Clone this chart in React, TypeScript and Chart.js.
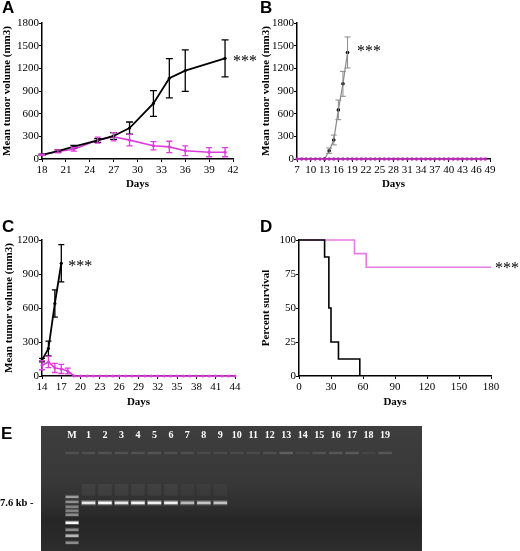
import React, { useEffect, useRef } from 'react';
import { Chart, registerables } from 'chart.js';

Chart.register(...registerables);

const SERIF = '"Liberation Serif", "Times New Roman", serif';
const SANS = '"Liberation Sans", Arial, sans-serif';

// ---------- Panel A ----------
const aCtrlDays = [18, 20, 22, 25, 27, 29, 32, 34, 36, 41];
const aCtrlMean = [55, 105, 165, 245, 305, 410, 735, 1068, 1170, 1332];
const aCtrlSD = [8, 15, 15, 25, 45, 80, 170, 260, 275, 245];
const aTrtDays = [18, 20, 22, 25, 27, 29, 32, 34, 36, 39, 41];
const aTrtMean = [55, 100, 130, 250, 295, 250, 175, 160, 110, 90, 90];
const aTrtSD = [8, 20, 25, 40, 55, 75, 55, 75, 65, 60, 60];
const aXRange = [18, 42];
const aYRange = [0, 1800];

// ---------- Panel B ----------
const bCtrlDays = [13, 14, 15, 16, 17, 18];
const bCtrlMean = [0, 110, 252, 650, 995, 1410];
const bCtrlSD = [0, 35, 65, 130, 165, 205];
const bTrtDays = [7, 8, 9, 10, 11, 12, 13, 14, 15, 16, 17, 18, 19, 20, 21, 22, 23, 24, 25, 26, 27, 28, 29, 30, 31, 32, 33, 34, 35, 36, 37, 38, 39, 40, 41, 42, 43, 44, 45, 46, 47, 48];
const bTrtMean = [0, 0, 0, 0, 0, 0, 0, 0, 0, 0, 0, 0, 0, 0, 0, 0, 0, 0, 0, 0, 0, 0, 0, 0, 0, 0, 0, 0, 0, 0, 0, 0, 0, 0, 0, 0, 0, 0, 0, 0, 0, 0];
const bXRange = [7, 49];
const bYRange = [0, 1800];

// ---------- Panel C ----------
const cCtrlDays = [14, 15, 16, 17];
const cCtrlMean = [140, 242, 640, 995];
const cCtrlSD = [15, 65, 120, 165];
const cTrtDays = [14, 15, 16, 17, 18, 19, 20, 21, 22, 23, 24, 25, 26, 27, 28, 29, 30, 31, 32, 33, 34, 35, 36, 37, 38, 39, 40, 41, 42, 43, 44];
const cTrtMean = [95, 124, 71, 62, 44, 0, 0, 0, 0, 0, 0, 0, 0, 0, 0, 0, 0, 0, 0, 0, 0, 0, 0, 0, 0, 0, 0, 0, 0, 0, 0];
const cTrtSD = [40, 50, 40, 40, 25, 0, 0, 0, 0, 0, 0, 0, 0, 0, 0, 0, 0, 0, 0, 0, 0, 0, 0, 0, 0, 0, 0, 0, 0, 0, 0];
const cXRange = [14, 44];
const cYRange = [0, 1200];

// ---------- Panel D ----------
const dCtrlDays = [0, 24, 28, 30, 37, 57];
const dCtrlSurv = [100, 87.5, 50, 25, 12.5, 0];
const dTrtDays = [0, 52, 63, 180];
const dTrtSurv = [100, 90, 80, 80];
const dXRange = [0, 180];
const dYRange = [0, 100];

// ---------- Panel E (gel) ----------
const gelLanes = ['M', '1', '2', '3', '4', '5', '6', '7', '8', '9', '10', '11', '12', '13', '14', '15', '16', '17', '18', '19'];
const gelRange = [0, 101];
const wellPos = 9;
const wellIntensity = [0.1, 0.1, 0.12, 0.12, 0.12, 0.13, 0.1, 0.1, 0.08, 0.08, 0.08, 0.08, 0.1, 0.18, 0.06, 0.12, 0.14, 0.16, 0.06, 0.14];
const smearRange = [40, 52];
const smearIntensity = [0, 0.05, 0.06, 0.05, 0.05, 0.05, 0.05, 0.03, 0.03, 0.03, 0, 0, 0, 0, 0, 0, 0, 0, 0, 0];
const productPos = 59;
const productIntensity = [0, 0.85, 0.97, 0.85, 0.92, 0.9, 0.9, 0.6, 0.65, 0.65, 0, 0, 0, 0, 0, 0, 0, 0, 0, 0];
const productLabel = '7.6 kb -';
const ladderPos = [53, 58, 63, 67, 71, 79, 86, 92, 99];
const ladderIntensity = [0.45, 0.4, 0.35, 0.35, 0.4, 0.95, 0.4, 0.6, 0.4];

const BLACK = '#000000';
const MAGENTA = '#dd3ddd';
const PINK = '#e77ce3';
const GRAY = '#8a8a8a';

const errorBarPlugin = {
  id: 'errorBars',
  afterDatasetsDraw(chart: any) {
    const ctx = chart.ctx;
    const y = chart.scales.y;
    chart.data.datasets.forEach((ds: any, i: number) => {
      if (!ds.errorBars) return;
      const meta = chart.getDatasetMeta(i);
      ctx.save();
      ctx.strokeStyle = ds.errorColor || ds.borderColor;
      ctx.lineWidth = ds.errorWidth || 1.2;
      meta.data.forEach((pt: any, j: number) => {
        const e = ds.errorBars[j];
        if (!e) return;
        const v = ds.data[j].y;
        const yt = y.getPixelForValue(v + e);
        const yb = y.getPixelForValue(Math.max(0, v - e));
        const cap = ds.capHalf || 3;
        ctx.beginPath();
        ctx.moveTo(pt.x, yt);
        ctx.lineTo(pt.x, yb);
        ctx.moveTo(pt.x - cap, yt);
        ctx.lineTo(pt.x + cap, yt);
        ctx.moveTo(pt.x - cap, yb);
        ctx.lineTo(pt.x + cap, yb);
        ctx.stroke();
      });
      ctx.restore();
    });
  },
};

const starsPlugin = {
  id: 'stars',
  afterDraw(chart: any, _args: any, opts: any) {
    if (!opts || !opts.text) return;
    const meta = chart.getDatasetMeta(opts.datasetIndex);
    const pt = meta.data[meta.data.length - 1];
    const ctx = chart.ctx;
    ctx.save();
    ctx.font = `${opts.size}px ${SERIF}`;
    ctx.fillStyle = '#000';
    ctx.textAlign = 'left';
    ctx.textBaseline = 'alphabetic';
    ctx.fillText(opts.text, pt.x + opts.dx, pt.y + opts.dy + opts.size * 0.47);
    ctx.restore();
  },
};

function axis(range: number[], step: number, title: string, box: number, isY: boolean) {
  return {
    type: 'linear',
    min: range[0],
    max: range[1],
    ticks: {
      stepSize: step,
      autoSkip: false,
      maxRotation: 0,
      color: '#000',
      font: { family: SERIF, size: 11 },
      padding: isY ? 0 : 2,
      callback: (v: any) => String(v),
    },
    grid: { drawOnChartArea: false, drawTicks: true, tickLength: 3, color: '#000', lineWidth: 1 },
    border: { display: true, color: '#000', width: 1.5 },
    title: {
      display: true,
      text: title,
      color: '#000',
      font: { family: SERIF, size: 11, weight: 'bold' },
      padding: 0,
    },
    afterFit: (s: any) => {
      if (isY) s.width = box;
      else s.height = box;
    },
  };
}

function series(days: number[], vals: number[], style: any, sd?: number[]) {
  return {
    data: days.map((d, i) => ({ x: d, y: vals[i] })),
    tension: 0,
    fill: false,
    clip: false,
    pointBorderWidth: 0,
    errorBars: sd,
    ...style,
  };
}

function lineConfig(p: any) {
  return {
    type: 'line',
    data: { datasets: p.datasets },
    options: {
      animation: false,
      responsive: false,
      maintainAspectRatio: false,
      layout: { padding: p.padding },
      plugins: { legend: { display: false }, tooltip: { enabled: false }, stars: p.stars },
      scales: {
        x: axis(p.xRange, p.xStep, p.xTitle, p.xBox, false),
        y: axis(p.yRange, p.yStep, p.yTitle, p.yBox, true),
      },
    },
    plugins: [errorBarPlugin, starsPlugin],
  };
}

const configA = () =>
  lineConfig({
    datasets: [
      series(aCtrlDays, aCtrlMean, { borderColor: BLACK, borderWidth: 1.8, pointRadius: 1.6, pointBackgroundColor: BLACK, errorWidth: 1.3, capHalf: 3.5 }, aCtrlSD),
      series(aTrtDays, aTrtMean, { borderColor: MAGENTA, borderWidth: 1.6, pointRadius: 1.6, pointBackgroundColor: MAGENTA, errorWidth: 1.3, capHalf: 3 }, aTrtSD),
    ],
    padding: { left: 1, top: 23, right: 27, bottom: 9.4 },
    xRange: aXRange, xStep: 3, xTitle: 'Days', xBox: 31.6,
    yRange: aYRange, yStep: 300, yTitle: 'Mean tumor volume (mm3)', yBox: 41,
    stars: { text: '***', datasetIndex: 0, dx: 8, dy: 0, size: 16 },
  });

const configB = () =>
  lineConfig({
    datasets: [
      series(bTrtDays, bTrtMean, { borderColor: MAGENTA, borderWidth: 1.4, pointRadius: 1.7, pointBackgroundColor: '#b52ab5' }),
      series(bCtrlDays, bCtrlMean, { borderColor: GRAY, borderWidth: 1.2, pointRadius: 1.8, pointBackgroundColor: BLACK, errorColor: GRAY, errorWidth: 1, capHalf: 3 }, bCtrlSD),
    ],
    padding: { left: 0, top: 23, right: 30, bottom: 9.4 },
    xRange: bXRange, xStep: 3, xTitle: 'Days', xBox: 31.6,
    yRange: bYRange, yStep: 300, yTitle: 'Mean tumor volume (mm3)', yBox: 37,
    stars: { text: '***', datasetIndex: 1, dx: 9.5, dy: -4.4, size: 16 },
  });

const configC = () =>
  lineConfig({
    datasets: [
      series(cCtrlDays, cCtrlMean, { borderColor: BLACK, borderWidth: 1.8, pointRadius: 1.6, pointBackgroundColor: BLACK, errorWidth: 1.3, capHalf: 3 }, cCtrlSD),
      series(cTrtDays, cTrtMean, { borderColor: MAGENTA, borderWidth: 1.6, pointRadius: 1.5, pointBackgroundColor: MAGENTA, errorWidth: 1.3, capHalf: 3 }, cTrtSD),
    ],
    padding: { left: 3, top: 40, right: 25, bottom: 6.4 },
    xRange: cXRange, xStep: 3, xTitle: 'Days', xBox: 32.6,
    yRange: cYRange, yStep: 300, yTitle: 'Mean tumor volume (mm3)', yBox: 39,
    stars: { text: '***', datasetIndex: 0, dx: 7, dy: 0.7, size: 16 },
  });

const configD = () =>
  lineConfig({
    datasets: [
      series(dCtrlDays, dCtrlSurv, { borderColor: BLACK, borderWidth: 1.6, pointRadius: 0, stepped: 'before' }),
      series(dTrtDays, dTrtSurv, { borderColor: PINK, borderWidth: 1.6, pointRadius: 0, stepped: 'before' }),
    ],
    padding: { left: 0, top: 40, right: 29, bottom: 6.4 },
    xRange: dXRange, xStep: 30, xTitle: 'Days', xBox: 32.6,
    yRange: dYRange, yStep: 25, yTitle: 'Percent survival', yBox: 39,
    stars: { text: '***', datasetIndex: 1, dx: 4, dy: -2, size: 16 },
  });

const gelBackgroundPlugin = {
  id: 'gelBg',
  beforeDraw(chart: any, _a: any, opts: any) {
    const ctx = chart.ctx;
    const area = chart.chartArea;
    const top = chart.scales.x.top;
    const left = area.left - opts.extendLeft;
    const right = area.right + opts.extendRight;
    const bottom = chart.height;
    const g = ctx.createLinearGradient(0, top, 0, bottom);
    g.addColorStop(0, '#3e3e3e');
    g.addColorStop(0.45, '#383838');
    g.addColorStop(0.62, '#303030');
    g.addColorStop(0.75, '#262626');
    g.addColorStop(0.92, '#2a2a2a');
    g.addColorStop(1, '#2e2e2e');
    ctx.save();
    ctx.fillStyle = g;
    ctx.fillRect(left, top, right - left, bottom - top);
    ctx.restore();
  },
};

const band = (pos: number, half: number) => [pos - half, pos + half];
const white = (a: number) => `rgba(255,255,255,${a})`;

const configE = () => {
  const barCommon = { grouped: false, barPercentage: 0.82, categoryPercentage: 1, borderWidth: 0, borderSkipped: false };
  const ladderSets = ladderPos.map((p, k) => ({
    ...barCommon,
    barPercentage: 0.78,
    data: gelLanes.map((_, i) => (i === 0 ? band(p, 1.2) : null)),
    backgroundColor: white(ladderIntensity[k]),
  }));
  const ladderGlow = ladderPos.map((p, k) => ({
    ...barCommon,
    barPercentage: 0.85,
    data: gelLanes.map((_, i) => (i === 0 ? band(p, 2.2) : null)),
    backgroundColor: white(ladderIntensity[k] * 0.25),
  }));
  return {
    type: 'bar',
    data: {
      labels: gelLanes,
      datasets: [
        ...ladderSets,
        ...ladderGlow,
        {
          ...barCommon,
          data: gelLanes.map((_, i) => (productIntensity[i] ? band(productPos, 1.4) : null)),
          backgroundColor: productIntensity.map((a) => white(a)),
        },
        {
          ...barCommon,
          barPercentage: 0.9,
          data: gelLanes.map((_, i) => (productIntensity[i] ? band(productPos, 2.8) : null)),
          backgroundColor: productIntensity.map((a) => white(a * 0.25)),
        },
        {
          ...barCommon,
          data: gelLanes.map((_, i) => (smearIntensity[i] ? smearRange : null)),
          backgroundColor: smearIntensity.map((a) => white(a)),
        },
        {
          ...barCommon,
          data: gelLanes.map((_, i) => (wellIntensity[i] ? band(wellPos, 1.3) : null)),
          backgroundColor: wellIntensity.map((a) => white(a)),
        },
      ],
    },
    options: {
      animation: false,
      responsive: false,
      maintainAspectRatio: false,
      layout: { padding: { left: 0, top: 6, right: 126.7, bottom: 0 } },
      plugins: { legend: { display: false }, tooltip: { enabled: false }, gelBg: { extendLeft: 22.8, extendRight: 28.7 } },
      scales: {
        x: {
          type: 'category',
          position: 'top',
          offset: true,
          grid: { display: false, drawTicks: false },
          border: { display: false },
          ticks: { color: '#ffffff', font: { family: SERIF, size: 10, weight: 'bold' }, padding: 3, autoSkip: false, maxRotation: 0 },
          afterFit: (s: any) => { s.height = 18; },
        },
        y: {
          type: 'linear',
          reverse: true,
          min: gelRange[0],
          max: gelRange[1],
          grid: { display: false, drawTicks: false },
          border: { display: false },
          afterBuildTicks: (s: any) => { s.ticks = [{ value: productPos }]; },
          ticks: { color: '#000', font: { family: SERIF, size: 10.5, weight: 'bold' }, padding: 0, crossAlign: 'far', callback: () => productLabel },
          afterFit: (s: any) => { s.width = 63.8; },
        },
      },
    },
    plugins: [gelBackgroundPlugin],
  };
};

function PlotCanvas({ left, top, width, height, config }: any) {
  const ref = useRef<HTMLCanvasElement>(null);
  useEffect(() => {
    const chart = new Chart(ref.current as HTMLCanvasElement, config() as any);
    return () => chart.destroy();
  }, []);
  return (
    <div style={{ position: 'absolute', left, top, width, height }}>
      <canvas ref={ref} width={width} height={height} style={{ width, height, display: 'block' }} />
    </div>
  );
}

const letterStyle = (left: number, top: number): React.CSSProperties => ({
  position: 'absolute',
  left,
  top,
  fontFamily: SANS,
  fontWeight: 'bold',
  fontSize: 17,
  lineHeight: '17px',
  color: '#000',
});

export default function App() {
  return (
    <div style={{ position: 'absolute', left: 0, top: 0, width: 520, height: 551, overflow: 'hidden', background: '#fff' }}>
      <PlotCanvas left={0} top={0} width={260} height={200} config={configA} />
      <PlotCanvas left={260} top={0} width={260} height={200} config={configB} />
      <PlotCanvas left={0} top={200} width={260} height={215} config={configC} />
      <PlotCanvas left={260} top={200} width={260} height={215} config={configD} />
      <PlotCanvas left={0} top={420} width={520} height={131} config={configE} />
      <div style={letterStyle(2, -1)}>A</div>
      <div style={letterStyle(260, -1)}>B</div>
      <div style={letterStyle(2, 218)}>C</div>
      <div style={letterStyle(260, 218)}>D</div>
      <div style={letterStyle(1, 425)}>E</div>
    </div>
  );
}
